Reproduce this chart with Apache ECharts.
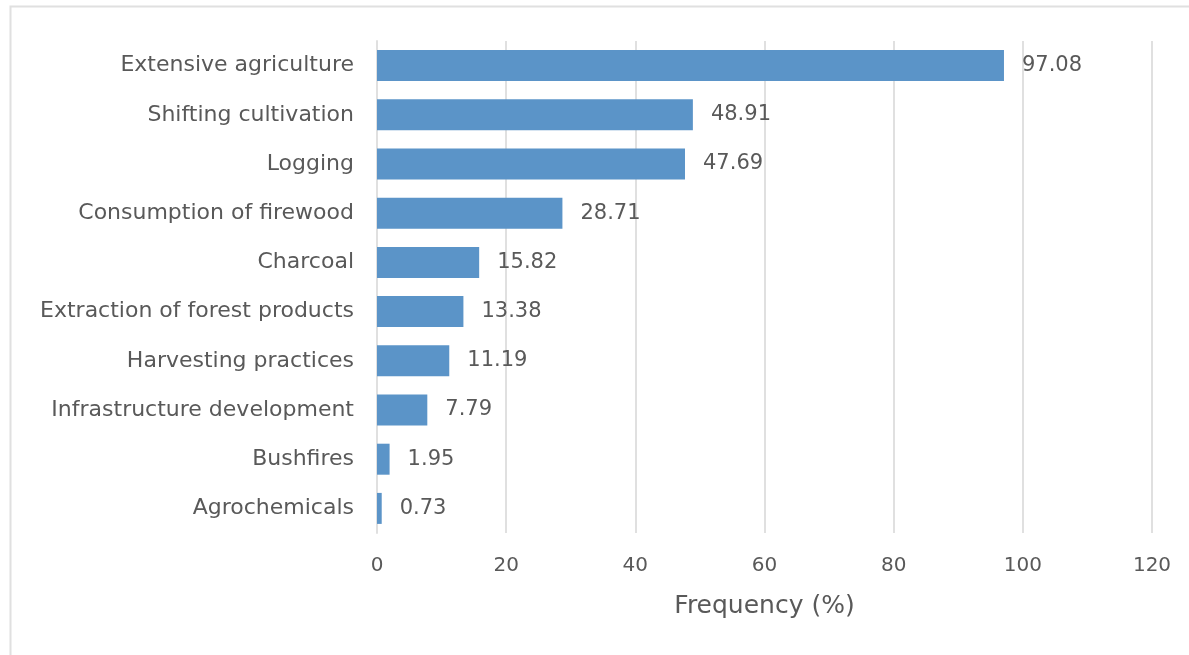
<!DOCTYPE html>
<html>
<head>
<meta charset="utf-8">
<script src="https://cdn.jsdelivr.net/npm/echarts@6/dist/echarts.min.js"></script>
<style>
  html, body { margin: 0; padding: 0; background: #ffffff; }
  #chart { width: 1189px; height: 655px; }
</style>
</head>
<body>
<div id="chart"></div>
<script>
// Drivers of deforestation, listed bottom-to-top for the category axis
const categories = [
  'Agrochemicals',
  'Bushfires',
  'Infrastructure development',
  'Harvesting practices',
  'Extraction of forest products',
  'Charcoal',
  'Consumption of firewood',
  'Logging',
  'Shifting cultivation',
  'Extensive agriculture'
];
const frequency = [0.73, 1.95, 7.79, 11.19, 13.38, 15.82, 28.71, 47.69, 48.91, 97.08];
const xTicks = { min: 0, max: 120, interval: 20 };

const textColor = '#595959';
const lineColor = '#e0e0e0';
const fontFamily = '"DejaVu Sans", sans-serif';

const chart = echarts.init(document.getElementById('chart'), null, { renderer: 'canvas' });
chart.setOption({
  backgroundColor: '#ffffff',
  animation: false,
  graphic: [{
    type: 'rect',
    shape: { x: 10.5, y: 6.5, width: 1200, height: 700 },
    style: { fill: 'none', stroke: lineColor, lineWidth: 2 },
    silent: true
  }],
  grid: { left: 377, right: 37, top: 41, bottom: 122 },
  xAxis: {
    type: 'value',
    min: xTicks.min,
    max: xTicks.max,
    interval: xTicks.interval,
    name: 'Frequency (%)',
    nameLocation: 'middle',
    nameGap: 61,
    nameTextStyle: { color: textColor, fontSize: 25, fontFamily },
    axisLine: { show: false },
    axisTick: { show: false },
    axisLabel: { color: textColor, fontSize: 20, margin: 23, fontFamily },
    splitLine: { lineStyle: { color: lineColor, width: 2 } }
  },
  yAxis: {
    type: 'category',
    data: categories,
    axisLine: { lineStyle: { color: lineColor, width: 2 } },
    axisTick: { show: false },
    axisLabel: { color: textColor, fontSize: 22, margin: 23, fontFamily, padding: [4, 0, 0, 0] }
  },
  series: [{
    type: 'bar',
    data: frequency,
    barWidth: 31,
    itemStyle: { color: '#5b94c8' },
    label: {
      show: true,
      position: 'right',
      distance: 18,
      color: textColor,
      fontSize: 21,
      fontFamily,
      padding: [4, 0, 0, 0],
      formatter: p => p.value.toFixed(2)
    }
  }]
});
</script>
</body>
</html>
